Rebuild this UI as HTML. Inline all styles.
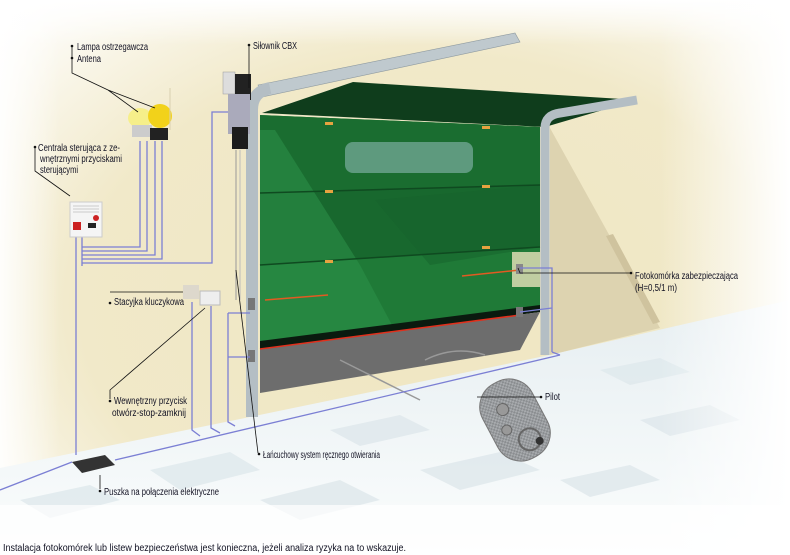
<!DOCTYPE html>
<html><head><meta charset="utf-8"><style>
html,body{margin:0;padding:0;background:#fff;}
svg{display:block;}
text{font-family:"Liberation Sans Narrow","Liberation Sans",sans-serif;font-size:10px;fill:#111122;}
</style></head><body>
<svg width="790" height="555" viewBox="0 0 790 555" xmlns="http://www.w3.org/2000/svg">
<defs>
<radialGradient id="wall" cx="0.55" cy="0.55" r="0.75">
<stop offset="0" stop-color="#efe6c2"/><stop offset="0.6" stop-color="#f1e9c9"/><stop offset="1" stop-color="#ffffff"/>
</radialGradient>
<linearGradient id="fadeR" x1="0" x2="1" y1="0" y2="0">
<stop offset="0" stop-color="#fff" stop-opacity="0"/><stop offset="1" stop-color="#fff" stop-opacity="1"/>
</linearGradient>
<linearGradient id="fadeL" x1="0" x2="1" y1="0" y2="0">
<stop offset="0" stop-color="#fff" stop-opacity="0.9"/><stop offset="1" stop-color="#fff" stop-opacity="0"/>
</linearGradient>
<linearGradient id="fadeT" x1="0" x2="0" y1="0" y2="1">
<stop offset="0" stop-color="#fff" stop-opacity="1"/><stop offset="1" stop-color="#fff" stop-opacity="0"/>
</linearGradient>
<linearGradient id="floor" x1="0" x2="0" y1="0" y2="1">
<stop offset="0" stop-color="#e6eef1"/><stop offset="1" stop-color="#fbfdfd"/>
</linearGradient>
<pattern id="dots" width="4" height="4" patternUnits="userSpaceOnUse"><rect width="4" height="4" fill="#8a8d90"/><rect width="2" height="2" fill="#a8abae"/><rect x="2" y="2" width="2" height="2" fill="#a8abae"/></pattern>
</defs>
<rect width="790" height="555" fill="url(#wall)"/>
<rect x="0" y="0" width="790" height="45" fill="url(#fadeT)"/>
<rect x="0" y="0" width="60" height="480" fill="url(#fadeL)"/>
<polygon points="0,468 245,418 545,356 790,300 790,555 0,555" fill="url(#floor)"/>
<g fill="#dfe8ec" opacity="0.8">
<polygon points="150,470 230,452 260,470 180,490"/><polygon points="330,430 400,415 430,430 360,446"/>
<polygon points="600,370 660,358 690,372 630,385"/><polygon points="260,500 340,480 380,500 300,520"/>
<polygon points="420,470 500,452 540,470 460,490"/><polygon points="640,420 710,405 740,420 670,436"/>
<polygon points="20,500 90,485 120,500 50,518"/><polygon points="560,480 630,465 660,480 590,497"/>
</g>
<polygon points="550,128 612,240 660,328 550,355" fill="#ddd3b0"/>
<polygon points="606,236 613,234 660,322 653,324" fill="#cfc39e"/>
<rect x="660" y="0" width="130" height="555" fill="url(#fadeR)"/>
<rect x="0" y="505" width="790" height="50" fill="#fff" opacity="0.7"/>
<polygon points="262,113 353,82 637,100 545,127" fill="#0f3d1c"/>
<polygon points="260,115 540,127 540,307 260,343" fill="#1f7a37"/>
<polygon points="260,115 540,127 540,185 260,193" fill="#1a6d30"/>
<polygon points="260,193 540,185 540,247 260,265" fill="#18682e"/>
<polygon points="275,130 360,265 400,340 260,343 260,130" fill="#2b9047" opacity="0.6"/>
<polygon points="375,200 540,185 540,247 430,265" fill="#15612b" opacity="0.5"/>
<line x1="260" y1="193" x2="540" y2="185" stroke="#0f4a20" stroke-width="1.5"/>
<line x1="260" y1="265" x2="540" y2="247" stroke="#0f4a20" stroke-width="1.5"/>
<polygon points="260,341 540,305 540,312 260,349" fill="#0a1a0f"/>
<polygon points="260,349 540,312 520,350 260,393" fill="#6d6d6d"/>
<path d="M340,360 L420,400 M425,360 q30,-15 60,-5" stroke="#999" fill="none" stroke-width="1.5"/>
<rect x="345" y="142" width="128" height="31" rx="8" fill="#5e9a7e"/>
<g fill="#e6a340"><rect x="325" y="122" width="8" height="3"/><rect x="482" y="126" width="8" height="3"/><rect x="325" y="190" width="8" height="3"/><rect x="482" y="185" width="8" height="3"/><rect x="325" y="260" width="8" height="3"/><rect x="482" y="246" width="8" height="3"/></g>
<rect x="512" y="252" width="28" height="35" fill="#e9e3bc" opacity="0.8"/>
<line x1="265" y1="300" x2="328" y2="295" stroke="#e25a22" stroke-width="1.5"/>
<line x1="462" y1="276" x2="520" y2="270" stroke="#e25a22" stroke-width="1.5"/>
<line x1="260" y1="349" x2="520" y2="315" stroke="#e0301c" stroke-width="1.5"/>
<polygon points="258,85 515,33 520,42 262,97" fill="#bfc9ce" stroke="#8e9aa0" stroke-width="0.6"/>
<path d="M252,417 L252,110 Q252,92 270,88" stroke="#b4bec4" stroke-width="12" fill="none"/>
<path d="M545,355 L545,128 Q545,115 560,113 L637,100" stroke="#b4bec4" stroke-width="9" fill="none"/>
<rect x="248" y="298" width="7" height="12" fill="#777"/><rect x="248" y="350" width="7" height="12" fill="#777"/>
<rect x="516" y="264" width="7" height="10" fill="#888"/><rect x="516" y="307" width="7" height="10" fill="#777"/>
<rect x="223" y="72" width="12" height="22" fill="#ddd" stroke="#999" stroke-width="0.5"/>
<rect x="235" y="74" width="16" height="26" fill="#222"/>
<rect x="228" y="94" width="22" height="40" fill="#aab"/>
<rect x="232" y="127" width="16" height="22" fill="#1c1c1c"/>
<line x1="236" y1="150" x2="236" y2="300" stroke="#999" stroke-width="1"/>
<line x1="240" y1="150" x2="240" y2="300" stroke="#bbb" stroke-width="1"/>
<g stroke="#7b7fd4" stroke-width="1.3" fill="none">
<path d="M140,141 V247 H82"/><path d="M147,141 V251 H82"/><path d="M155,141 V255 H82"/><path d="M162,141 V259 H82"/>
<path d="M228,112 H212 V263 H82"/>
<path d="M76,235 V455"/><path d="M82,235 V266"/>
<path d="M192,302 V430 L200,436"/><path d="M211,306 V428 L220,433"/>
<path d="M228,313 H250 M228,313 V422 L235,426 M228,357 H250"/>
<path d="M520,268 H552 V352 M520,312 L552,308 M552,352 L560,355"/>
<path d="M0,490 L72,462 M115,460 L560,355"/>
</g>
<ellipse cx="140" cy="118" rx="12" ry="10" fill="#f6ef8a"/>
<ellipse cx="160" cy="116" rx="12" ry="12" fill="#f2d21a"/>
<rect x="132" y="125" width="20" height="12" fill="#ccc"/><rect x="150" y="128" width="18" height="12" fill="#222"/>
<line x1="170" y1="88" x2="170" y2="130" stroke="#d9d0b0"/>
<rect x="70" y="202" width="32" height="35" fill="#f5f5f5" stroke="#ccc"/>
<g stroke="#bbb" stroke-width="0.8"><line x1="73" y1="206" x2="99" y2="206"/><line x1="73" y1="209" x2="99" y2="209"/><line x1="73" y1="212" x2="99" y2="212"/></g>
<rect x="73" y="222" width="8" height="8" fill="#c22"/><circle cx="96" cy="218" r="3" fill="#c22"/><rect x="88" y="223" width="8" height="5" fill="#222"/>
<rect x="183" y="285" width="16" height="14" fill="#ddd8cc"/>
<rect x="200" y="291" width="20" height="14" fill="#eee" stroke="#bbb"/>
<polygon points="72,462 105,455 115,465 82,473" fill="#333"/>
<g transform="translate(515,420) rotate(-28)">
<rect x="-28" y="-42" width="56" height="84" rx="26" fill="url(#dots)" stroke="#777"/>
<circle cx="-6" cy="-15" r="6" fill="#999" stroke="#666"/><circle cx="-12" cy="5" r="5" fill="#999" stroke="#666"/>
<circle cx="4" cy="24" r="11" fill="none" stroke="#666" stroke-width="2"/><circle cx="12" cy="30" r="4" fill="#333"/>
</g>
<g stroke="#111" stroke-width="0.8" fill="none">
<path d="M72,45 V73 L108,90 L138,112 M108,90 L155,108"/>
<path d="M249,45 V88"/>
<path d="M35,147 V171 L70,196"/>
<path d="M110,292 H183"/>
<path d="M110,399 V390 L205,308"/>
<path d="M100,489 V475"/>
<path d="M258,453 L236,270"/>
<path d="M518,268 L520,273 H630"/>
<path d="M477,397 H540"/>
</g>
<g fill="#111">
<circle cx="72" cy="46" r="1.3"/><circle cx="72" cy="58" r="1.3"/><circle cx="249" cy="45" r="1.3"/><circle cx="35" cy="147" r="1.3"/>
<circle cx="110" cy="303" r="1.3"/><circle cx="110" cy="401" r="1.3"/><circle cx="100" cy="491" r="1.3"/><circle cx="259" cy="454" r="1.3"/>
<circle cx="631" cy="273" r="1.3"/><circle cx="541" cy="397" r="1.3"/>
</g>
<text x="77" y="50" textLength="71" lengthAdjust="spacingAndGlyphs">Lampa ostrzegawcza</text>
<text x="77" y="62" textLength="24" lengthAdjust="spacingAndGlyphs">Antena</text>
<text x="253" y="49" textLength="44" lengthAdjust="spacingAndGlyphs">Siłownik CBX</text>
<text x="38" y="151" textLength="82" lengthAdjust="spacingAndGlyphs">Centrala sterująca z ze-</text>
<text x="40" y="162" textLength="82" lengthAdjust="spacingAndGlyphs">wnętrznymi przyciskami</text>
<text x="40" y="173" textLength="38" lengthAdjust="spacingAndGlyphs">sterującymi</text>
<text x="114" y="305" textLength="70" lengthAdjust="spacingAndGlyphs">Stacyjka kluczykowa</text>
<text x="114" y="404" textLength="73" lengthAdjust="spacingAndGlyphs">Wewnętrzny przycisk</text>
<text x="112" y="416" textLength="74" lengthAdjust="spacingAndGlyphs">otwórz-stop-zamknij</text>
<text x="104" y="495" textLength="115" lengthAdjust="spacingAndGlyphs">Puszka na połączenia elektryczne</text>
<text x="263" y="458" textLength="117" lengthAdjust="spacingAndGlyphs">Łańcuchowy system ręcznego otwierania</text>
<text x="545" y="400" textLength="15" lengthAdjust="spacingAndGlyphs">Pilot</text>
<text x="635" y="279" textLength="103" lengthAdjust="spacingAndGlyphs">Fotokomórka zabezpieczająca</text>
<text x="635" y="291" textLength="42" lengthAdjust="spacingAndGlyphs">(H=0,5/1 m)</text>
<text x="3" y="551" textLength="403" lengthAdjust="spacingAndGlyphs">Instalacja fotokomórek lub listew bezpieczeństwa jest konieczna, jeżeli analiza ryzyka na to wskazuje.</text>
</svg>
</body></html>
